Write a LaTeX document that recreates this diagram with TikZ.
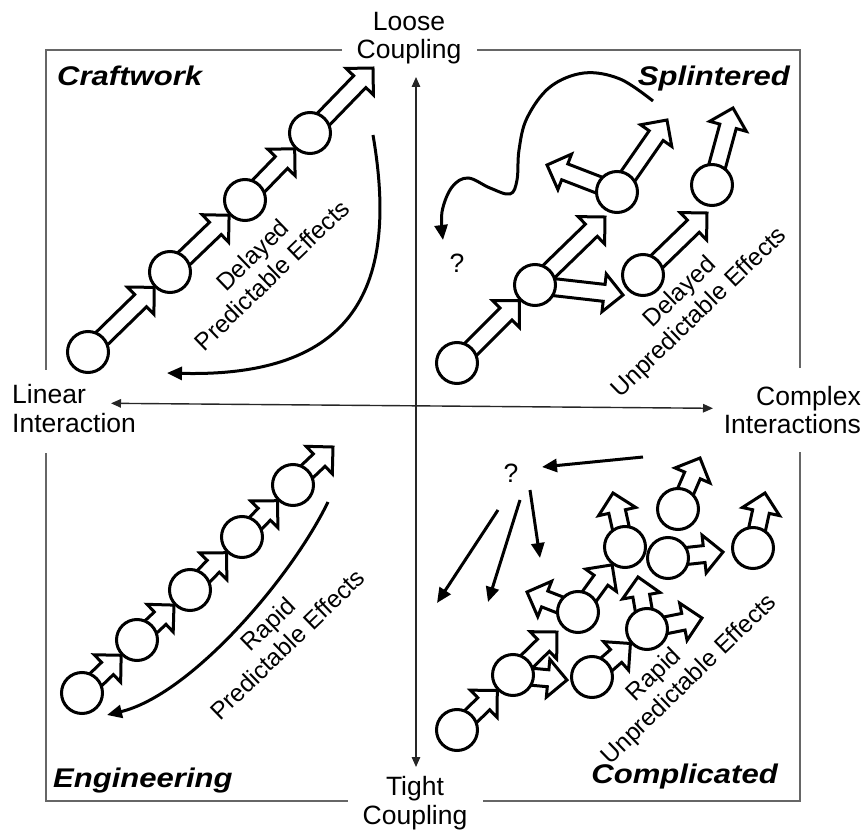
\documentclass[tikz,border=0pt]{standalone}
\usepackage{fontspec}
\setmainfont{Liberation Sans}
\newfontfamily\titlefont[FakeStretch=1.15]{Liberation Sans}
\usetikzlibrary{arrows.meta,backgrounds}

\makeatletter
% block arrow from the centre of #2 towards #3, stopping #1 pt short of it
\newcommand\blockarrow[3][0]{%
  \pgfpointdiff{\pgfpointanchor{#2}{center}}{\pgfpointanchor{#3}{center}}%
  \pgfgetlastxy{\ba@dx}{\ba@dy}%
  \pgfmathsetmacro\ba@ang{atan2(\ba@dy,\ba@dx)}%
  \pgfmathsetmacro\ba@len{veclen(\ba@dx,\ba@dy)-#1}%
  \pgfmathsetmacro\ba@neck{\ba@len-19}%
  \draw[blockshape, shift={(#2.center)}, rotate=\ba@ang]
    (0pt,-8.5pt) -- (\ba@neck pt,-8.5pt) -- (\ba@neck pt,-19pt) -- (\ba@len pt,0pt)
    -- (\ba@neck pt,19pt) -- (\ba@neck pt,8.5pt) -- (0pt,8.5pt) -- cycle;
}
\makeatother

\begin{document}
\begin{tikzpicture}[x=1pt,y=-1pt,
  frameline/.style={draw=black!60, line width=1.3pt},
  axisline/.style={draw=black!85, line width=1.4pt,
    {Triangle[length=10pt,width=8.5pt]}-{Triangle[length=10pt,width=8.5pt]}},
  dot/.style={circle, draw, line width=3pt, fill=white, minimum size=41pt, inner sep=0pt},
  blockshape/.style={draw, line width=3pt, fill=white, line join=miter},
  thinarrow/.style={line width=3pt, -{Triangle[length=15pt,width=13pt]}},
  axislabel/.style={font=\fontsize{26.5}{28.5}\selectfont, align=center, inner sep=0pt},
  quadtitle/.style={font=\titlefont\bfseries\itshape\fontsize{27}{30}\selectfont, inner sep=0pt},
  effect/.style={font=\fontsize{24.5}{28}\selectfont, align=center, rotate=44, inner sep=0pt},
  qmark/.style={font=\fontsize{26.5}{28}\selectfont, inner sep=0pt}]
\useasboundingbox (0,0) rectangle (865,834);

% outer frame, broken where the axis labels sit
\draw[frameline] (342,50) -- (46,50) -- (46,370);
\draw[frameline] (46,453) -- (46,801) -- (348,801);
\draw[frameline] (483,801) -- (800,801) -- (800,452);
\draw[frameline] (800,368) -- (800,50) -- (477,50);

% axis labels
\node[axislabel] (loose) at (409,38) {Loose\\Coupling};
\node[axislabel] (tight) at (415,803) {Tight\\Coupling};
\node[axislabel, align=left, anchor=west] (linear) at (12,408.5) {Linear\\Interaction};
\node[axislabel, align=right, anchor=east] (complex) at (861,410) {Complex\\Interactions};

% axes
\coordinate (ytop) at (416,77);
\coordinate (ybot) at (416,767);
\coordinate (xlft) at (111,403.3);
\coordinate (xrgt) at (713,408.3);
\draw[axisline] (ytop) -- (ybot);
\draw[axisline] (xlft) -- (xrgt);

% quadrant titles
\node[quadtitle, anchor=base west] (craft) at (57,86) {Craftwork};
\node[quadtitle, anchor=base east] (splint) at (790,86) {Splintered};
\node[quadtitle, anchor=base west] (engin) at (53,787) {Engineering};
\node[quadtitle, anchor=base east] (compl) at (778,783) {Complicated};

% Craftwork chain
\node[dot] (a1) at (88,352) {};
\node[dot] (a2) at (170,272) {};
\node[dot] (a3) at (245,200) {};
\node[dot] (a4) at (310,133) {};
\coordinate (a5) at (373,68);

% Splintered
\node[dot] (b1) at (457,363) {};
\node[dot] (b2) at (535,285) {};
\node[dot] (b3) at (617,192) {};
\node[dot] (b4) at (643,275) {};
\node[dot] (b5) at (712,185) {};
\coordinate (b2u) at (605,217);
\coordinate (b2r) at (623,295);
\coordinate (b3l) at (547,165);
\coordinate (b3u) at (667,120);
\coordinate (b4u) at (707,213);
\coordinate (b5u) at (733,108);

% Engineering chain
\node[dot] (e1) at (82,693) {};
\node[dot] (e2) at (137,640) {};
\node[dot] (e3) at (190,590) {};
\node[dot] (e4) at (242,537) {};
\node[dot] (e5) at (293,485) {};
\coordinate (e6) at (333,447);

% Complicated
\node[dot] (k1) at (457,730) {};
\node[dot] (k2) at (513,675) {};
\node[dot] (k3) at (578,612) {};
\node[dot] (k4) at (592,677) {};
\node[dot] (k5) at (625,547) {};
\node[dot] (k6) at (647,629) {};
\node[dot] (k7) at (668,558) {};
\node[dot] (k8) at (678,509) {};
\node[dot] (k9) at (753,548) {};
\coordinate (k2u) at (557,632);
\coordinate (k2r) at (567,680);
\coordinate (k3l) at (527,592);
\coordinate (k5u) at (613,493);
\coordinate (k6u) at (638,577);
\coordinate (k6r) at (702,618);
\coordinate (k7r) at (723,552);
\coordinate (k8u) at (700,458);
\coordinate (k9u) at (765,493);

\begin{pgfonlayer}{background}
  \blockarrow[22]{a1}{a2}
  \blockarrow[22]{a2}{a3}
  \blockarrow[22]{a3}{a4}
  \blockarrow{a4}{a5}

  \blockarrow[22]{b1}{b2}
  \blockarrow{b2}{b2u}
  \blockarrow{b2}{b2r}
  \blockarrow{b3}{b3l}
  \blockarrow{b3}{b3u}
  \blockarrow{b4}{b4u}
  \blockarrow{b5}{b5u}

  \blockarrow[22]{e1}{e2}
  \blockarrow[22]{e2}{e3}
  \blockarrow[22]{e3}{e4}
  \blockarrow[22]{e4}{e5}
  \blockarrow{e5}{e6}

  \blockarrow[22]{k1}{k2}
  \blockarrow{k2}{k2u}
  \blockarrow{k2}{k2r}
  \blockarrow{k3}{k3l}
  \blockarrow[22]{k3}{k5}
  \blockarrow[22]{k4}{k6}
  \blockarrow{k5}{k5u}
  \blockarrow{k6}{k6u}
  \blockarrow{k6}{k6r}
  \blockarrow{k7}{k7r}
  \blockarrow{k8}{k8u}
  \blockarrow{k9}{k9u}
\end{pgfonlayer}

% effect labels
\node[effect] (craftfx) at (262,265) {Delayed\\Predictable Effects};
\node[effect] (splintfx) at (690,303) {Delayed\\Unpredictable Effects};
\node[effect] (enginfx) at (277.5,634) {Rapid\\Predictable Effects};
\node[effect] (complfx) at (680,670) {Rapid\hspace*{44pt}\\Unpredictable Effects};

% return arrows
\coordinate (cr1) at (373,135);
\coordinate (cr2) at (167,373);
\draw[thinarrow] (cr1) .. controls (397,275) and (365,378) .. (cr2);
\coordinate (en1) at (328,502);
\coordinate (en2) at (107,715);
\draw[thinarrow] (en1) .. controls (290,580) and (190,695) .. (en2);

% wandering path in the Splintered quadrant
\node[qmark] (qa) at (457,263) {?};
\draw[thinarrow] plot[smooth, tension=0.6] coordinates {
  (653,101) (620,79) (584,73) (550,87) (527,118) (519,150) (517,180)
  (510,194) (490,188) (468,178) (452,187) (442,212) (443,240)};

% scattered effects in the Complicated quadrant
\node[qmark] (qb) at (511,473) {?};
\coordinate (qin) at (643,457);
\coordinate (qbe) at (542,467);
\coordinate (qo1) at (498,510);
\coordinate (qt1) at (437,603);
\coordinate (qo2) at (520,500);
\coordinate (qt2) at (488,602);
\coordinate (qo3) at (530,490);
\coordinate (qt3) at (540,558);
\draw[thinarrow] (qin) -- (qbe);
\draw[thinarrow] (qo1) -- (qt1);
\draw[thinarrow] (qo2) -- (qt2);
\draw[thinarrow] (qo3) -- (qt3);
\end{tikzpicture}
\end{document}
